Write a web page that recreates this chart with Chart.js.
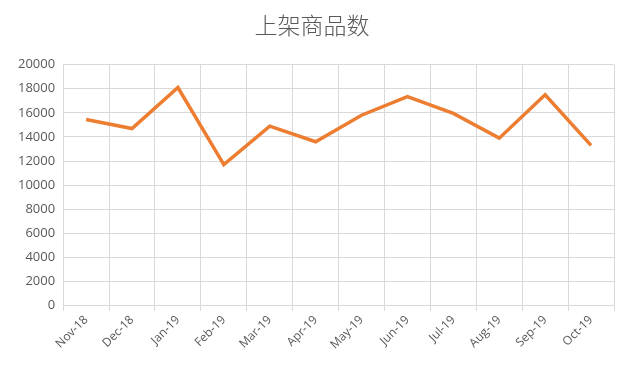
<!DOCTYPE html>
<html>
<head>
<meta charset="utf-8">
<script src="https://cdn.jsdelivr.net/npm/chart.js@4/dist/chart.umd.min.js"></script>
<style>
  html, body { margin: 0; padding: 0; background: #fff; }
  #wrap { width: 636px; height: 377px; position: relative; }
</style>
</head>
<body>
<div id="wrap"><canvas id="goodsChart" width="636" height="377"></canvas></div>
<script>
// 数据
const months = ["Nov-18", "Dec-18", "Jan-19", "Feb-19", "Mar-19", "Apr-19",
                "May-19", "Jun-19", "Jul-19", "Aug-19", "Sep-19", "Oct-19"];
const listedCount = [15450, 14700, 18100, 11700, 14900, 13600,
                     15800, 17350, 15950, 13900, 17500, 13300];
const yTicks = [0, 2000, 4000, 6000, 8000, 10000, 12000, 14000, 16000, 18000, 20000];

const gridColor = "#d9d9d9";
const textColor = "#595959";

new Chart(document.getElementById("goodsChart").getContext("2d"), {
    type: "line",
    data: {
        labels: months,
        datasets: [{
            label: "上架商品数",
            data: listedCount,
            borderColor: "#ED7D31",
            borderWidth: 3.5,
            pointRadius: 0,
            tension: 0,
            fill: false
        }]
    },
    options: {
        responsive: false,
        animation: false,
        layout: { padding: { left: 10, right: 22, top: 0, bottom: 23 } },
        plugins: {
            legend: { display: false },
            tooltip: { enabled: false },
            title: {
                display: true,
                text: "上架商品数",
                color: textColor,
                font: { family: "'Noto Sans CJK SC'", size: 23, weight: 300 },
                padding: { top: 11, bottom: 26 }
            }
        },
        scales: {
            x: {
                offset: true,
                grid: { offset: true, color: gridColor, tickLength: 5, drawTicks: true },
                border: { color: gridColor },
                ticks: {
                    color: textColor,
                    font: { family: "'Open Sans'", size: 12 },
                    maxRotation: 45,
                    minRotation: 45,
                    padding: 2
                }
            },
            y: {
                min: 0,
                max: 20000,
                afterBuildTicks: axis => { axis.ticks = yTicks.map(v => ({ value: v })); },
                grid: { color: gridColor, drawTicks: false },
                border: { display: false },
                ticks: {
                    color: textColor,
                    font: { family: "'Open Sans'", size: 13 },
                    padding: 8,
                    callback: v => String(v)
                }
            }
        }
    }
});
</script>
</body>
</html>
